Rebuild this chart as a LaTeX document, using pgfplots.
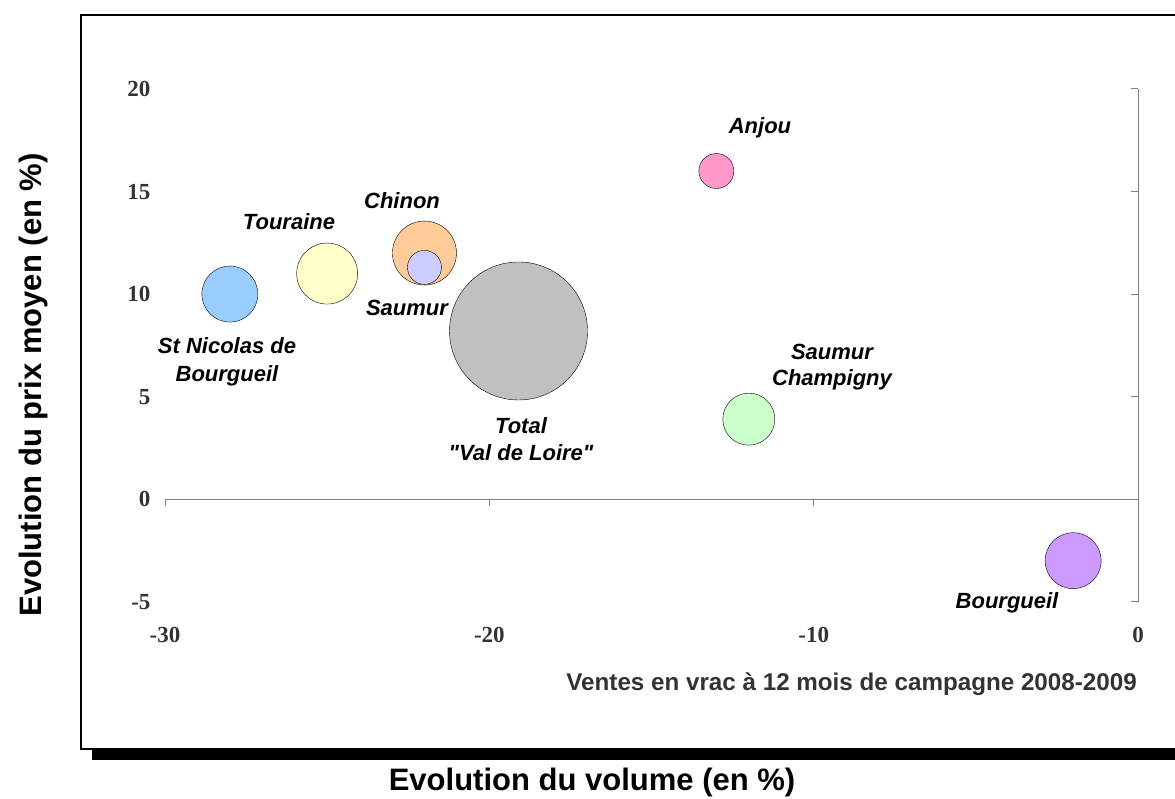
\documentclass[border=0pt]{standalone}
\usepackage{pgfplots}
\pgfplotsset{compat=1.18}
\usepackage{fontspec}
\setmainfont{Liberation Serif}
\newfontfamily\arial{Liberation Sans}
\definecolor{tickgray}{HTML}{333333}
\definecolor{axisgray}{HTML}{808080}
\definecolor{cNicolas}{HTML}{99CCFF}
\definecolor{cTouraine}{HTML}{FFFFCC}
\definecolor{cChinon}{HTML}{FFCC99}
\definecolor{cSaumur}{HTML}{CCCCFF}
\definecolor{cTotal}{HTML}{C0C0C0}
\definecolor{cAnjou}{HTML}{FF99CC}
\definecolor{cChampigny}{HTML}{CCFFCC}
\definecolor{cBourgueil}{HTML}{CC99FF}
\begin{document}
\begin{tikzpicture}[x=1pt,y=1pt]
\clip (0,0) rectangle (1175,799);
% frame with shadow
\fill[black] (92,39) rectangle (1200,773);
\filldraw[fill=white, draw=black, line width=1.5pt] (81,50) rectangle (1190,784);
\begin{axis}[
  at={(165pt,197.3pt)}, anchor=south west,
  width=973pt, height=512.7pt, scale only axis,
  xmin=-30, xmax=0, ymin=-5, ymax=20,
  axis line style={draw=none},
  major tick length=0pt,
  xtick={-30,-20,-10,0}, xticklabels={-30,-20,-10,0},
  ytick={-5,0,5,10,15,20}, yticklabels={-5,0,5,10,15,20},
  ticklabel style={font=\fontsize{23}{25}\selectfont\bfseries, text=tickgray},
  xticklabel style={yshift=-22pt},
  yticklabel style={xshift=-11pt},
  clip=false,
  every axis plot/.append style={only marks, mark=*, mark options={draw=black, line width=0.8pt}},
]
% axis lines
\draw[axisgray, line width=1pt] (axis cs:-30,0) -- (axis cs:0,0);
\draw[axisgray, line width=1pt] (axis cs:0,-5) -- (axis cs:0,20);
\draw[axisgray, line width=1pt] (axis cs:-30,0) -- ++(0pt,-7pt);
\draw[axisgray, line width=1pt] (axis cs:-20,0) -- ++(0pt,-7pt);
\draw[axisgray, line width=1pt] (axis cs:-10,0) -- ++(0pt,-7pt);
\draw[axisgray, line width=1pt] (axis cs:0,0) -- ++(0pt,-7pt);
\draw[axisgray, line width=1pt] (axis cs:0,-5) -- ++(-7pt,0pt);
\draw[axisgray, line width=1pt] (axis cs:0,0) -- ++(-7pt,0pt);
\draw[axisgray, line width=1pt] (axis cs:0,5) -- ++(-7pt,0pt);
\draw[axisgray, line width=1pt] (axis cs:0,10) -- ++(-7pt,0pt);
\draw[axisgray, line width=1pt] (axis cs:0,15) -- ++(-7pt,0pt);
\draw[axisgray, line width=1pt] (axis cs:0,20) -- ++(-7pt,0pt);
% bubbles (x = volume %, y = price %, mark size = bubble radius)
\addplot[mark size=28pt, mark options={fill=cNicolas}] coordinates {(-28,10)};
\addplot[mark size=30.5pt, mark options={fill=cTouraine}] coordinates {(-25,11)};
\addplot[mark size=32pt, mark options={fill=cChinon}] coordinates {(-22,12)};
\addplot[mark size=17pt, mark options={fill=cSaumur}] coordinates {(-22,11.3)};
\addplot[mark size=69pt, mark options={fill=cTotal}] coordinates {(-19.1,8.2)};
\addplot[mark size=17.5pt, mark options={fill=cAnjou}] coordinates {(-13,16)};
\addplot[mark size=26pt, mark options={fill=cChampigny}] coordinates {(-12,3.9)};
\addplot[mark size=28pt, mark options={fill=cBourgueil}] coordinates {(-2,-3)};
\end{axis}
% bubble labels
\begin{scope}[every node/.style={font=\arial\bfseries\itshape\fontsize{22}{28}\selectfont, align=center, inner sep=0pt}]
\node at (760,671) {Anjou};
\node at (402,598) {Chinon};
\node at (289,577) {Touraine};
\node at (407,491) {Saumur};
\node at (227,437) {St Nicolas de\\Bourgueil};
\node[font=\arial\bfseries\itshape\fontsize{22}{27}\selectfont] at (521,359.5) {Total\\"Val de Loire"};
\node[font=\arial\bfseries\itshape\fontsize{22}{26}\selectfont] at (832,432) {Saumur\\Champigny};
\node at (1007,196) {Bourgueil};
\end{scope}
\node[anchor=east, inner sep=0pt, text=tickgray, font=\arial\bfseries\fontsize{24.2}{26}\selectfont] at (1137,115) {Ventes en vrac à 12 mois de campagne 2008-2009};
\node[font=\arial\bfseries\fontsize{31}{33}\selectfont, inner sep=0pt] at (592,17) {Evolution du volume (en \%)};
\node[font=\arial\bfseries\fontsize{31}{33}\selectfont, inner sep=0pt, rotate=90] at (33,414) {Evolution du prix moyen (en \%)};
\end{tikzpicture}
\end{document}
